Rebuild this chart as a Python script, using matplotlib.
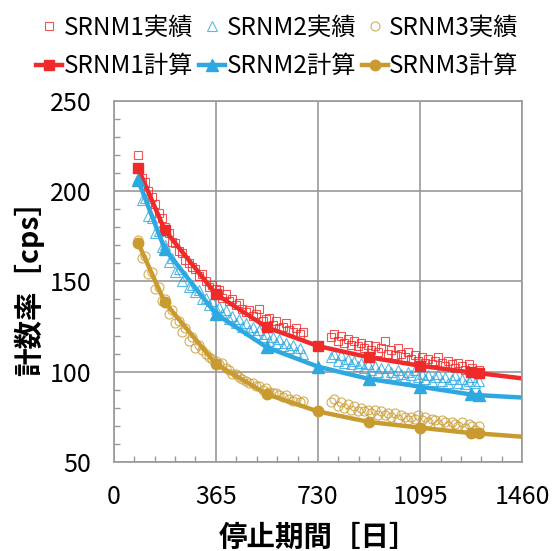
import matplotlib
matplotlib.use("Agg")
import matplotlib.pyplot as plt
from matplotlib.ticker import MultipleLocator, FixedLocator

plt.rcParams['font.family'] = ['Noto Sans CJK JP', 'DejaVu Sans']

# ---- measured data (実績) ----
days_meas = [88, 100, 112, 124, 136, 148, 160, 172, 184, 196, 208, 220, 232, 244, 256, 268, 280, 292, 304, 316,
             328, 340, 352, 364, 376, 388, 400, 412, 424, 436, 448, 460, 472, 484, 496, 508, 520, 532, 544, 556,
             568, 580, 592, 604, 616, 628, 640, 652, 664, 676,
             776, 788, 800, 812, 824, 836, 848, 860, 872, 884, 896, 908, 920, 932, 944, 956, 968, 980, 992, 1004,
             1016, 1028, 1040, 1052, 1064, 1076, 1088, 1100, 1112, 1124, 1136, 1148, 1160, 1172, 1184, 1196, 1208,
             1220, 1232, 1244, 1256, 1268, 1280, 1292, 1304]

srnm1_meas = [220, 207, 205, 200, 197, 193, 188, 185, 180, 177, 172, 171, 167, 166, 162, 160, 158, 157, 153, 154,
              150, 147, 148, 146, 145, 141, 143, 139, 140, 137, 138, 135, 133, 134, 131, 132, 135, 128, 129, 130,
              126, 128, 124, 125, 127, 123, 122, 124, 121, 122,
              119, 121, 117, 120, 116, 118, 115, 117, 114, 116, 113, 115, 112, 114, 111, 113, 117, 110, 112, 109,
              113, 110, 108, 111, 107, 109, 106, 108, 105, 107, 104, 106, 108, 105, 103, 106, 104,
              102, 105, 103, 101, 104, 102, 100, 101]

srnm2_meas = [207, 195, 196, 186, 185, 177, 178, 169, 170, 161, 163, 155, 157, 150, 153, 147, 148, 144, 145, 140,
              141, 137, 139, 135, 136, 132, 134, 129, 131, 127, 129, 125, 127, 123, 125, 121, 123, 119, 121, 117,
              119, 116, 118, 114, 116, 113, 115, 111, 113, 110,
              108, 110, 106, 109, 105, 107, 104, 106, 103, 105, 102, 104, 101, 103, 100, 102, 99, 102, 100, 98,
              101, 99, 97, 100, 98, 101, 97, 99, 96, 98, 95, 97, 99, 95, 97, 94, 96,
              98, 94, 96, 93, 95, 97, 94, 95]

srnm3_meas = [173, 163, 164, 154, 155, 146, 147, 139, 140, 132, 134, 127, 128, 122, 124, 117, 119, 113, 115, 112,
              110, 108, 107, 106, 104, 105, 102, 101, 99, 99, 97, 96, 95, 94, 94, 92, 92, 90, 91, 89,
              88, 88, 87, 86, 87, 85, 84, 85, 83, 84,
              83, 85, 81, 83, 80, 82, 79, 81, 78, 80, 78, 79, 77, 79, 76, 78, 76, 77, 75, 77,
              74, 76, 75, 73, 75, 74, 76, 73, 75, 72, 74, 73, 71, 73, 72, 70, 72,
              71, 70, 72, 69, 71, 70, 68, 70]

# ---- calculated data (計算) ----
days_calc = [87, 182, 365, 547, 730, 912, 1095, 1277, 1305, 1460]
srnm1_calc = [212.6, 178.5, 143, 124.6, 114.2, 108, 103.3, 99.6, 99.2, 96.3]
srnm2_calc = [206, 168, 132, 113.5, 102.8, 96, 91.7, 87.4, 87, 85.7]
srnm3_calc = [171.3, 138.5, 104.3, 87.6, 78, 72.2, 69, 66, 65.8, 64]

labels_meas = ['SRNM1実績', 'SRNM2実績', 'SRNM3実績']
labels_calc = ['SRNM1計算', 'SRNM2計算', 'SRNM3計算']
x_ticks = [0, 365, 730, 1095, 1460]
y_ticks = [50, 100, 150, 200, 250]

c_red = '#EE2A2A'
c_blue = '#2EA8E0'
c_gold = '#C99A30'

fig = plt.figure(figsize=(5.55, 5.51), dpi=100)
ax = fig.add_axes([0.205, 0.1615, 0.736, 0.6555])

ms_open = 6
h1, = ax.plot(days_meas, srnm1_meas, ls='none', marker='s', ms=ms_open, mfc='none', mec=c_red, mew=0.8, alpha=0.8, label=labels_meas[0])
h2, = ax.plot(days_meas, srnm2_meas, ls='none', marker='^', ms=ms_open + 0.5, mfc='none', mec=c_blue, mew=0.8, alpha=0.8, label=labels_meas[1])
h3, = ax.plot(days_meas, srnm3_meas, ls='none', marker='o', ms=ms_open + 0.5, mfc='none', mec=c_gold, mew=0.8, alpha=0.8, label=labels_meas[2])

mk = list(range(9))
g1, = ax.plot(days_calc, srnm1_calc, color=c_red, lw=3.2, marker='s', ms=7.5, markevery=mk, label=labels_calc[0])
g2, = ax.plot(days_calc, srnm2_calc, color=c_blue, lw=3.2, marker='^', ms=8, markevery=mk, label=labels_calc[1])
g3, = ax.plot(days_calc, srnm3_calc, color=c_gold, lw=3.2, marker='o', ms=7.5, markevery=mk, label=labels_calc[2])

ax.set_xlim(0, 1460)
ax.set_ylim(50, 250)
ax.xaxis.set_major_locator(FixedLocator(x_ticks))
ax.yaxis.set_major_locator(FixedLocator(y_ticks))
ax.xaxis.set_minor_locator(MultipleLocator(73))
ax.yaxis.set_minor_locator(MultipleLocator(10))
ax.tick_params(which='major', length=0, labelsize=18, pad=16)
ax.tick_params(which='minor', direction='in', length=4, color='#999999', width=1)
ax.grid(True, which='major', color='#999999', lw=1.2)
for s in ax.spines.values():
    s.set_color('#999999')
    s.set_linewidth(1.2)

ax.set_xlabel('停止期間［日］', fontsize=20.5, fontweight='bold', labelpad=10)
ax.set_ylabel('計数率［cps］', fontsize=20.5, fontweight='bold', labelpad=4)

handles = [h1, g1, h2, g2, h3, g3]
fig.legend(handles=handles, labels=[h.get_label() for h in handles], ncol=3, loc='upper center',
           bbox_to_anchor=(0.5, 0.995), frameon=False, fontsize=17.5, handlelength=1.07, handletextpad=0.05,
           columnspacing=0.25, labelspacing=0.5, borderaxespad=0.1)

fig.savefig('out.png', dpi=100)
